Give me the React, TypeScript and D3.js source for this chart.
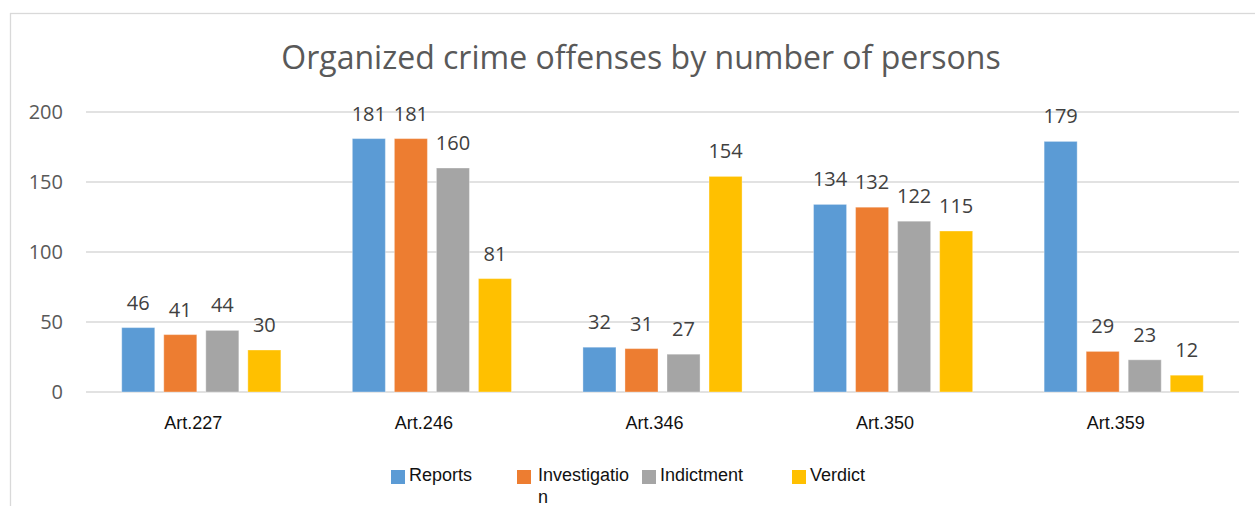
import React from 'react';
import {scaleBand, scaleLinear} from "d3";

const categories = ["Art.227", "Art.246", "Art.346", "Art.350", "Art.359"];
const seriesNames = ["Reports", "Investigation", "Indictment", "Verdict"];
const reports = [46, 181, 32, 134, 179];
const investigation = [41, 181, 31, 132, 29];
const indictment = [44, 160, 27, 122, 23];
const verdict = [30, 81, 154, 115, 12];
const yTicks = [0, 50, 100, 150, 200];

const seriesValues = [reports, investigation, indictment, verdict];
const colors = ["#5B9BD5", "#ED7D31", "#A5A5A5", "#FFC000"];

const width = 1255;
const height = 506;

export default function App() {
  const x0 = scaleBand().domain(categories).range([86, 1239]).padding(0);
  const x1 = scaleBand()
    .domain(seriesNames)
    .range([0, x0.bandwidth()])
    .paddingInner(0.214)
    .paddingOuter(0.85);
  const y = scaleLinear().domain([0, 200]).range([392, 112]);

  // legend is laid out like Excel did it: the long name wraps
  const legendX = [391, 517, 642, 792];

  return (
    <svg width={width} height={height}
         style={{position: "absolute", left: 0, top: 0, background: "#fff"}}>
      <rect x={10.5} y={13.5} width={1300} height={600} fill="#fff" stroke="#D9D9D9" strokeWidth={1.3}/>
      <text x={641} y={69} textAnchor="middle" fontFamily="'Open Sans'" fontSize={32} fill="#595959">
        Organized crime offenses by number of persons
      </text>

      {yTicks.map(t => (
        <g key={t}>
          <line x1={86} x2={1239} y1={y(t)} y2={y(t)} stroke="#D9D9D9" strokeWidth={1.3}/>
          <text x={63} y={y(t)} dy="0.36em" textAnchor="end" fontFamily="'Open Sans'" fontSize={20} fill="#595959">
            {t}
          </text>
        </g>
      ))}

      {categories.map((c, ci) => (
        <g key={c} transform={`translate(${x0(c)},0)`}>
          {seriesNames.map((s, si) => {
            const v = seriesValues[si][ci];
            const bx = x1(s);
            return (
              <g key={s}>
                <rect x={bx} y={y(v)} width={x1.bandwidth()} height={y(0) - y(v)}
                      fill={colors[si]} stroke="#fff" strokeOpacity={0.35} strokeWidth={1}/>
                <text x={bx + x1.bandwidth() / 2} y={y(v) - 18} textAnchor="middle"
                      fontFamily="'Open Sans'" fontSize={20} fill="#404040">
                  {v}
                </text>
              </g>
            )
          })}
          <text x={x0.bandwidth() / 2 - 8} y={429} textAnchor="middle"
                fontFamily="'Liberation Sans', Arial" fontSize={18} fill="#111">
            {c}
          </text>
        </g>
      ))}

      {seriesNames.map((s, i) => (
        <g key={s} transform={`translate(${legendX[i]},470)`}>
          <rect x={0} y={0} width={14} height={14} fill={colors[i]}/>
          {s === "Investigation" ? (
            <text x={21} y={11} fontFamily="'Liberation Sans', Arial" fontSize={18} fill="#111">
              <tspan x={21}>Investigatio</tspan>
              <tspan x={21} dy={22}>n</tspan>
            </text>
          ) : (
            <text x={18} y={11} fontFamily="'Liberation Sans', Arial" fontSize={18} fill="#111">{s}</text>
          )}
        </g>
      ))}
    </svg>
  )
}
